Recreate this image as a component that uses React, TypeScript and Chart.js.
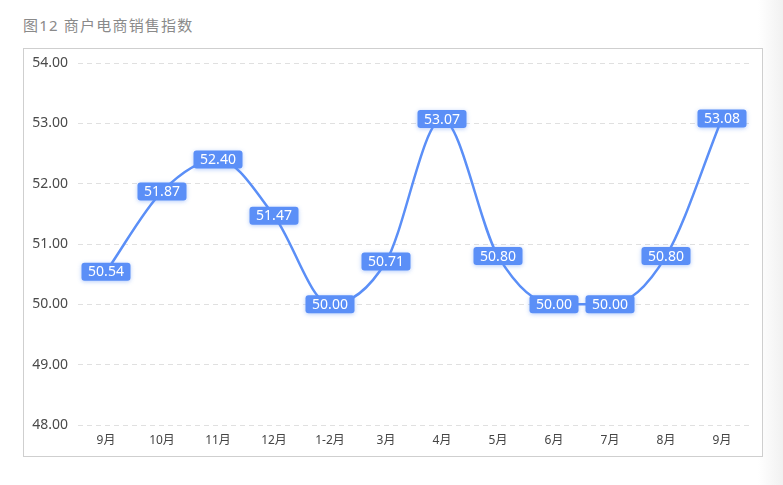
import React, { useEffect, useRef } from "react";
import { Chart, registerables } from "chart.js";

Chart.register(...registerables);

const title = "图12 商户电商销售指数";
const categories = ["9月", "10月", "11月", "12月", "1-2月", "3月", "4月", "5月", "6月", "7月", "8月", "9月"];
const values = [50.54, 51.87, 52.4, 51.47, 50.0, 50.71, 53.07, 50.8, 50.0, 50.0, 50.8, 53.08];
const yMin = 48;
const yMax = 54;
const yStep = 1;

const FONT = '"Noto Sans", "Noto Sans CJK SC", sans-serif';
const BLUE = "#5b8ff7";

const labelPlugin = {
  id: "boxLabels",
  afterDatasetsDraw(chart: any) {
    const ctx = chart.ctx;
    const meta = chart.getDatasetMeta(0);
    const data = chart.data.datasets[0].data as number[];
    ctx.save();
    ctx.font = `14px ${FONT}`;
    ctx.textAlign = "center";
    ctx.textBaseline = "middle";
    meta.data.forEach((el: any, i: number) => {
      const text = data[i].toFixed(2);
      const w = 49;
      const h = 18;
      const x = el.x - w / 2;
      const y = el.y - h / 2;
      ctx.save();
      ctx.shadowColor = "rgba(91,143,247,0.45)";
      ctx.shadowBlur = 4;
      ctx.shadowOffsetY = 1;
      ctx.fillStyle = BLUE;
      ctx.beginPath();
      (ctx as any).roundRect(x, y, w, h, 3);
      ctx.fill();
      ctx.restore();
      ctx.fillStyle = "#ffffff";
      ctx.fillText(text, el.x, el.y + 0.5);
    });
    ctx.restore();
  },
};

export default function App() {
  const ref = useRef<HTMLCanvasElement>(null);
  useEffect(() => {
    if (!ref.current) return;
    const chart = new Chart(ref.current, {
      type: "line",
      data: {
        labels: categories,
        datasets: [
          {
            data: values,
            borderColor: BLUE,
            borderWidth: 2.5,
            pointRadius: 0,
            cubicInterpolationMode: "monotone",
            fill: false,
          },
        ],
      },
      options: {
        responsive: false,
        animation: false,
        layout: { padding: { left: 0, top: 14, right: 12, bottom: 0 } },
        plugins: { legend: { display: false }, tooltip: { enabled: false } },
        scales: {
          x: {
            offset: true,
            grid: { display: false, drawTicks: false },
            border: { display: false },
            ticks: { color: "#444", font: { family: FONT, size: 12 }, padding: 8, maxRotation: 0, autoSkip: false },
            afterFit: (s: any) => {
              s.height = 31;
              s.paddingLeft = 0;
              s.paddingRight = 0;
            },
          },
          y: {
            min: yMin,
            max: yMax,
            grid: { color: "#e0e0e0", drawTicks: false, lineWidth: 1 },
            border: { display: false, dash: [5, 4] },
            ticks: {
              stepSize: yStep,
              color: "#4a4a4a",
              padding: 10,
              font: { family: FONT, size: 14 },
              callback: (v: any) => Number(v).toFixed(2),
            },
            afterFit: (s: any) => {
              s.width = 54;
              s.paddingTop = 0;
              s.paddingBottom = 0;
            },
          },
        },
      },
      plugins: [labelPlugin],
    } as any);
    return () => chart.destroy();
  }, []);

  return (
    <div style={{ position: "fixed", left: 0, top: 0, width: 783, height: 485, background: "#fff", overflow: "hidden" }}>
      <div
        style={{
          position: "absolute",
          left: 758,
          top: 0,
          width: 25,
          height: 485,
          background: "linear-gradient(to right, #ffffff, #f1f1f1)",
        }}
      />
      <div
        style={{
          position: "absolute",
          left: 23,
          top: 14,
          fontFamily: FONT,
          fontSize: 15,
          color: "#8a8a8a",
          letterSpacing: 1.2,
          lineHeight: "22px",
        }}
      >
        {title}
      </div>
      <div
        style={{
          position: "absolute",
          left: 23,
          top: 48,
          width: 738,
          height: 407,
          border: "1px solid #cfcfcf",
          background: "#fff",
        }}
      >
        <canvas ref={ref} width={738} height={407} style={{ display: "block" }} />
      </div>
    </div>
  );
}
